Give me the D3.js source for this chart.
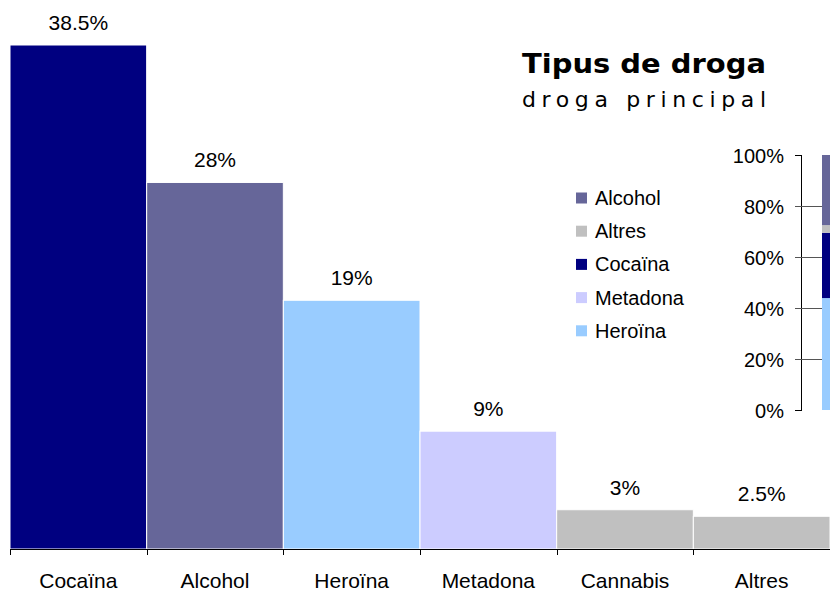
<!DOCTYPE html>
<html><head><meta charset="utf-8">
<script src="https://cdn.jsdelivr.net/npm/d3@7"></script>
<style>body{margin:0;background:#fff}svg{display:block}</style>
</head><body>
<script>
const categories = ["Cocaïna","Alcohol","Heroïna","Metadona","Cannabis","Altres"];
const values = [38.5, 28, 19, 9, 3, 2.5];
const valueLabels = ["38.5%","28%","19%","9%","3%","2.5%"];
const barColors = ["#000080","#666699","#99CCFF","#CCCCFF","#C0C0C0","#C0C0C0"];
const stackKeys = ["Heroïna","Metadona","Cocaïna","Altres","Alcohol"];
const stackValues = [43.9, 0, 25.6, 3.0, 27.5];
const stackColors = ["#99CCFF","#CCCCFF","#000080","#C0C0C0","#666699"];
const legendKeys = ["Alcohol","Altres","Cocaïna","Metadona","Heroïna"];
const legendColors = ["#666699","#C0C0C0","#000080","#CCCCFF","#99CCFF"];
const insetTicks = [0,20,40,60,80,100];

const W=830,H=593;
const svg=d3.select("body").append("svg").attr("width",W).attr("height",H);
const font="'Liberation Sans', Arial, sans-serif";
const vfont="'DejaVu Sans', Verdana, sans-serif";

const x=d3.scaleBand().domain(categories).range([10,830]).padding(0);
const y=d3.scaleLinear().domain([0,38.5]).range([549,45]);

svg.selectAll("rect.bar").data(categories).join("rect")
  .attr("x",d=>x(d)).attr("y",(d,i)=>y(values[i]))
  .attr("width",x.bandwidth()).attr("height",(d,i)=>549-y(values[i]))
  .attr("fill",(d,i)=>barColors[i]).attr("stroke","#fff").attr("stroke-width",1);

svg.selectAll("text.val").data(categories).join("text")
  .attr("x",d=>x(d)+x.bandwidth()/2).attr("y",(d,i)=>y(values[i])-15)
  .attr("text-anchor","middle").attr("font-family",font).attr("font-size",21)
  .text((d,i)=>valueLabels[i]);

// x axis
const ax=svg.append("g");
ax.append("line").attr("x1",10).attr("x2",830).attr("y1",549.5).attr("y2",549.5).attr("stroke","#000");
const bounds=categories.map(d=>x(d)).concat([830]);
ax.selectAll("line.t").data(bounds).join("line")
  .attr("x1",d=>Math.round(d)+0.5).attr("x2",d=>Math.round(d)+0.5).attr("y1",549).attr("y2",555).attr("stroke","#000");
ax.selectAll("text").data(categories).join("text")
  .attr("x",d=>x(d)+x.bandwidth()/2).attr("y",588)
  .attr("text-anchor","middle").attr("font-family",font).attr("font-size",21).text(d=>d);

// title
svg.append("text").attr("x",522).attr("y",73).attr("font-family",vfont)
  .attr("font-weight","bold").attr("font-size",27).attr("textLength",244).attr("lengthAdjust","spacingAndGlyphs").text("Tipus de droga");
svg.append("text").attr("x",522).attr("y",107).attr("font-family",vfont)
  .attr("font-size",22).attr("textLength",244).attr("lengthAdjust","spacing").text("droga principal");

// legend
const lg=svg.append("g");
legendKeys.forEach((k,i)=>{
  const cy=198+i*33.2;
  lg.append("rect").attr("x",576).attr("y",cy-5.5).attr("width",11).attr("height",11).attr("fill",legendColors[i]);
  lg.append("text").attr("x",595).attr("y",cy+7).attr("font-family",font).attr("font-size",20).text(k);
});

// inset
const yi=d3.scaleLinear().domain([0,100]).range([410,155]);
const ig=svg.append("g");
let acc=0;
stackValues.forEach((v,i)=>{
  ig.append("rect").attr("x",822).attr("width",20).attr("y",yi(acc+v)).attr("height",yi(acc)-yi(acc+v)).attr("fill",stackColors[i]);
  acc+=v;
});
ig.append("line").attr("x1",801.5).attr("x2",801.5).attr("y1",155).attr("y2",410).attr("stroke","#000");
insetTicks.forEach(t=>{
  const yy=Math.round(yi(t))+0.5;
  const inner=(t===0||t===100)?802:822;
  ig.append("line").attr("x1",795).attr("x2",inner).attr("y1",yy).attr("y2",yy).attr("stroke", (t===0||t===100)?"#000":"#555");
  ig.append("text").attr("x",784).attr("y",yy+7).attr("text-anchor","end").attr("font-family",font).attr("font-size",20).text(t+"%");
});
</script>
</body></html>
